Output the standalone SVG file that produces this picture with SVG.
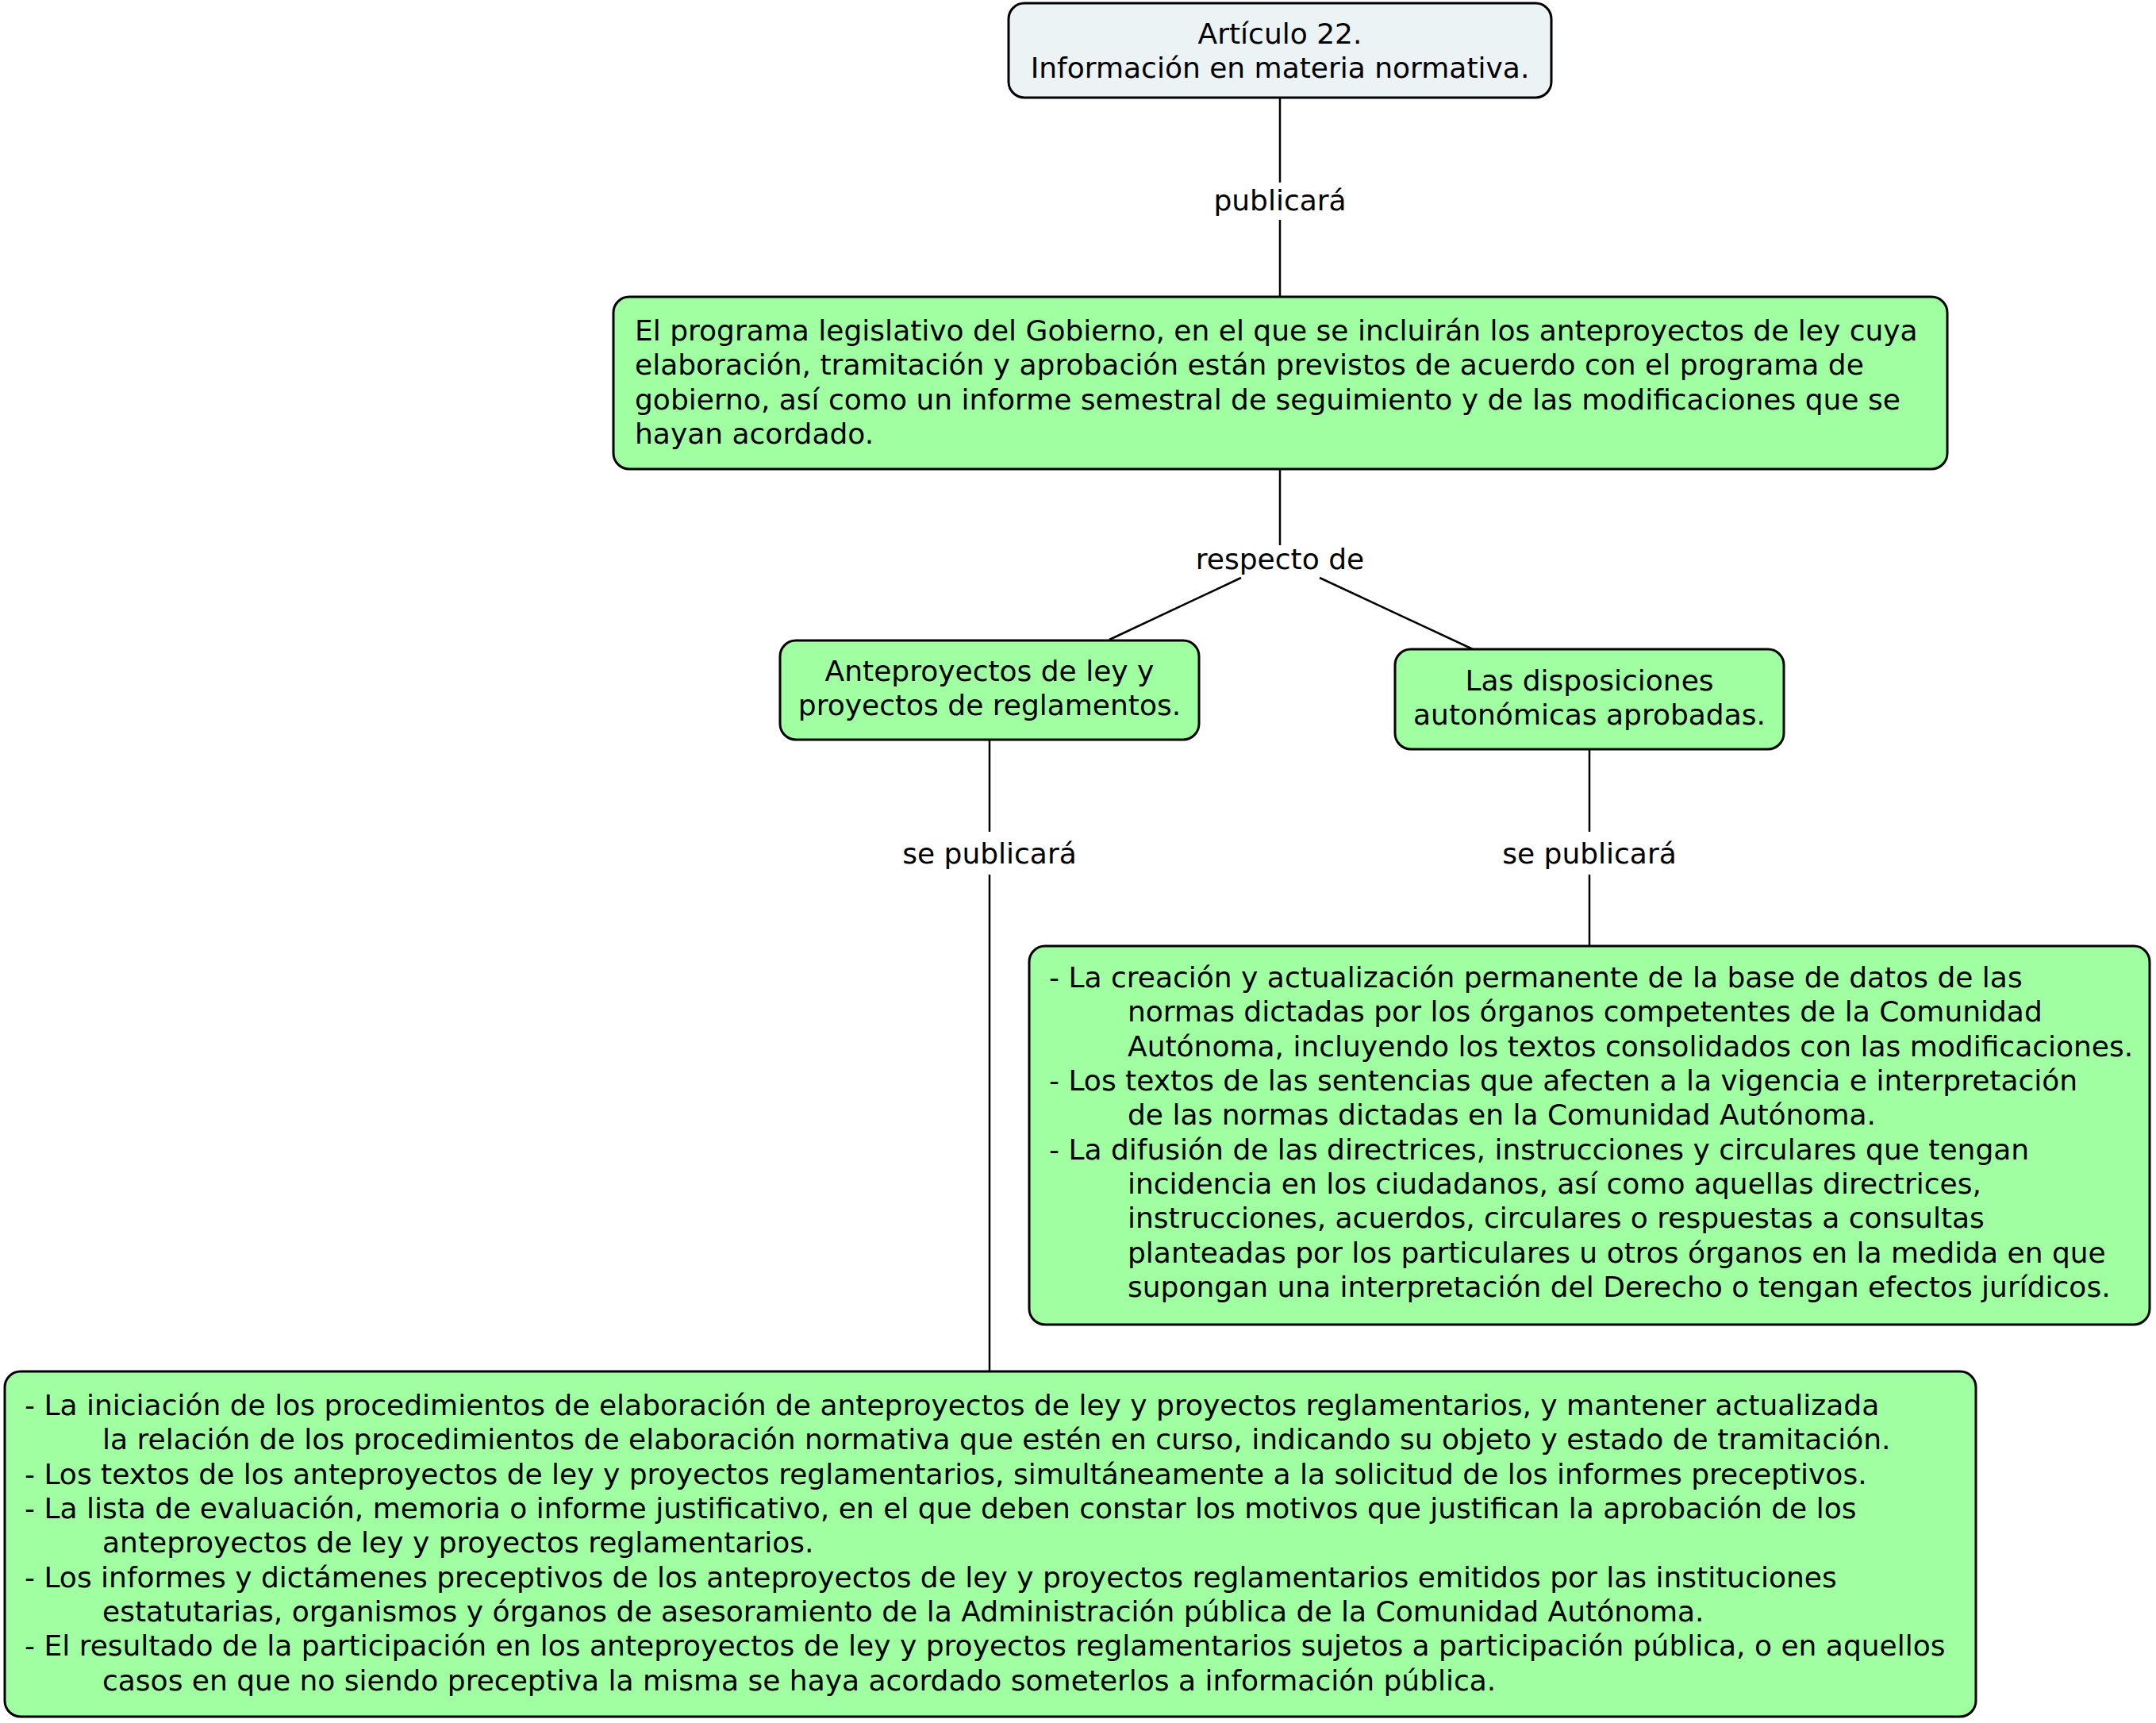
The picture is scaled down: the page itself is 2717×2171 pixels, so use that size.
<svg xmlns="http://www.w3.org/2000/svg" width="2717" height="2171" viewBox="0 0 2717 2171">
<style>
text{font-family:"DejaVu Sans","Verdana",sans-serif;font-size:36px;fill:#000}
.c{text-anchor:middle}
.box{stroke:#000;stroke-width:3}
.g{fill:#a0ffa0}
.b{fill:#ebf3f5}
.ln{stroke:#000;stroke-width:2.5;fill:none}
</style>
<rect width="2717" height="2171" fill="#fff"/>
<g id="connectors">
<line class="ln" x1="1613" y1="123" x2="1613" y2="230"/>
<line class="ln" x1="1613" y1="277" x2="1613" y2="374"/>
<text class="c" x="1613" y="265">publicará</text>
<line class="ln" x1="1613" y1="591" x2="1613" y2="687"/>
<text class="c" x="1613" y="717">respecto de</text>
<line class="ln" x1="1564" y1="728" x2="1398" y2="806"/>
<line class="ln" x1="1663" y1="728" x2="1856" y2="818"/>
<line class="ln" x1="1247" y1="932" x2="1247" y2="1048"/>
<line class="ln" x1="1247" y1="1102" x2="1247" y2="1728"/>
<text class="c" x="1247" y="1088">se publicará</text>
<line class="ln" x1="2003" y1="944" x2="2003" y2="1048"/>
<line class="ln" x1="2003" y1="1102" x2="2003" y2="1192"/>
<text class="c" x="2003" y="1088">se publicará</text>
</g>
<g id="n-articulo">
<rect class="box b" x="1271" y="4" width="684" height="119" rx="20"/>
<text class="c" x="1613" y="55">Artículo 22.</text>
<text class="c" x="1613" y="98">Información en materia normativa.</text>
</g>
<g id="n-programa">
<rect class="box g" x="773" y="374" width="1681" height="217" rx="20"/>
<text x="800" y="429">El programa legislativo del Gobierno, en el que se incluirán los anteproyectos de ley cuya</text>
<text x="800" y="472">elaboración, tramitación y aprobación están previstos de acuerdo con el programa de</text>
<text x="800" y="516">gobierno, así como un informe semestral de seguimiento y de las modificaciones que se</text>
<text x="800" y="559">hayan acordado.</text>
</g>
<g id="n-anteproyectos">
<rect class="box g" x="983" y="807" width="528" height="125" rx="20"/>
<text class="c" x="1247" y="858">Anteproyectos de ley y</text>
<text class="c" x="1247" y="901">proyectos de reglamentos.</text>
</g>
<g id="n-disposiciones">
<rect class="box g" x="1758" y="818" width="490" height="126" rx="20"/>
<text class="c" x="2003" y="870">Las disposiciones</text>
<text class="c" x="2003" y="913">autonómicas aprobadas.</text>
</g>
<g id="n-disposiciones-lista">
<rect class="box g" x="1297" y="1192" width="1412" height="477" rx="20"/>
<text x="1322" y="1244">- La creación y actualización permanente de la base de datos de las</text>
<text x="1421" y="1287">normas dictadas por los órganos competentes de la Comunidad</text>
<text x="1421" y="1331">Autónoma, incluyendo los textos consolidados con las modificaciones.</text>
<text x="1322" y="1374">- Los textos de las sentencias que afecten a la vigencia e interpretación</text>
<text x="1421" y="1417">de las normas dictadas en la Comunidad Autónoma.</text>
<text x="1322" y="1461">- La difusión de las directrices, instrucciones y circulares que tengan</text>
<text x="1421" y="1504">incidencia en los ciudadanos, así como aquellas directrices,</text>
<text x="1421" y="1547">instrucciones, acuerdos, circulares o respuestas a consultas</text>
<text x="1421" y="1591">planteadas por los particulares u otros órganos en la medida en que</text>
<text x="1421" y="1634">supongan una interpretación del Derecho o tengan efectos jurídicos.</text>
</g>
<g id="n-anteproyectos-lista">
<rect class="box g" x="6" y="1728" width="2484" height="435" rx="20"/>
<text x="31" y="1783">- La iniciación de los procedimientos de elaboración de anteproyectos de ley y proyectos reglamentarios, y mantener actualizada</text>
<text x="129" y="1826">la relación de los procedimientos de elaboración normativa que estén en curso, indicando su objeto y estado de tramitación.</text>
<text x="31" y="1870">- Los textos de los anteproyectos de ley y proyectos reglamentarios, simultáneamente a la solicitud de los informes preceptivos.</text>
<text x="31" y="1913">- La lista de evaluación, memoria o informe justificativo, en el que deben constar los motivos que justifican la aprobación de los</text>
<text x="129" y="1956">anteproyectos de ley y proyectos reglamentarios.</text>
<text x="31" y="2000">- Los informes y dictámenes preceptivos de los anteproyectos de ley y proyectos reglamentarios emitidos por las instituciones</text>
<text x="129" y="2043">estatutarias, organismos y órganos de asesoramiento de la Administración pública de la Comunidad Autónoma.</text>
<text x="31" y="2086">- El resultado de la participación en los anteproyectos de ley y proyectos reglamentarios sujetos a participación pública, o en aquellos</text>
<text x="129" y="2130">casos en que no siendo preceptiva la misma se haya acordado someterlos a información pública.</text>
</g>
</svg>
